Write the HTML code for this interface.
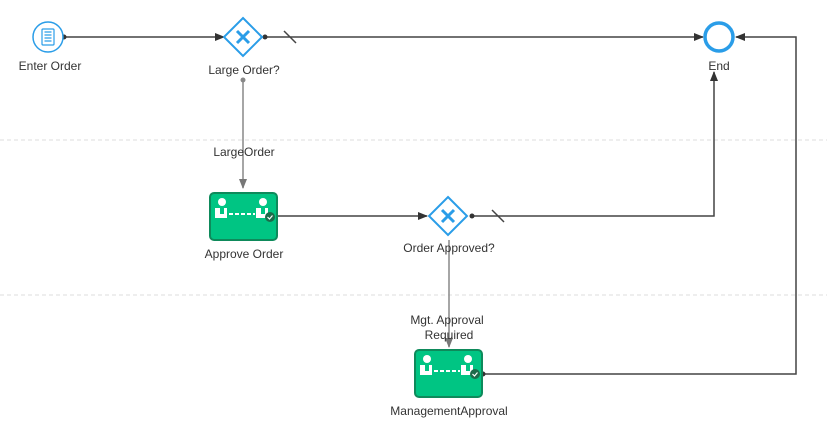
<!DOCTYPE html>
<html><head><style>body{margin:0;background:#fff}svg{display:block;font-family:"Liberation Sans",sans-serif}</style></head><body>
<svg width="827" height="444" viewBox="0 0 827 444">
<defs>
<marker id="a" markerWidth="10" markerHeight="10" refX="9" refY="5" orient="auto" markerUnits="userSpaceOnUse"><path d="M0,1 L10,5 L0,9z" fill="#333"/></marker>
<marker id="g" markerWidth="10" markerHeight="10" refX="9" refY="5" orient="auto" markerUnits="userSpaceOnUse"><path d="M0,1 L10,5 L0,9z" fill="#777"/></marker>
<g id="task">
<rect x="0" y="0" width="67" height="47" rx="4" fill="#00c583" stroke="#0e8a5b" stroke-width="2"/>
<circle cx="12" cy="9" r="4" fill="#fff"/><path d="M5,15h5v6h4v-6h3v10h-12z" fill="#fff"/>
<circle cx="53" cy="9" r="4" fill="#fff"/><path d="M46,15h5v6h4v-6h3v10h-12z" fill="#fff"/>
<path d="M19,21h26" stroke="#fff" stroke-width="2" stroke-dasharray="4,2"/>
<circle cx="60" cy="24" r="5" fill="#1d6b4a"/><path d="M57.5,24l2,2l3-3.5" stroke="#fff" stroke-width="1.2" fill="none"/>
</g>
<g id="gw">
<path d="M0,-19 L19,0 L0,19 L-19,0z" fill="#fff" stroke="#2a9de8" stroke-width="2"/>
<path d="M-6,-6L6,6M6,-6L-6,6" stroke="#2a9de8" stroke-width="3"/>
</g>
</defs>
<line x1="0" y1="140" x2="827" y2="140" stroke="#ddd" stroke-dasharray="4,3"/>
<line x1="0" y1="295" x2="827" y2="295" stroke="#ddd" stroke-dasharray="4,3"/>
<g stroke="#444" stroke-width="1.5" fill="none">
<path d="M64,37H224" marker-end="url(#a)"/>
<path d="M265,37H703" marker-end="url(#a)"/>
<path d="M284,31l12,12"/>
<path d="M277,216H427" marker-end="url(#a)"/>
<path d="M472,216H714V72" marker-end="url(#a)"/>
<path d="M492,210l12,12"/>
<path d="M483,374H796V37H736" marker-end="url(#a)"/>
</g>
<g stroke="#888" stroke-width="1.5" fill="none">
<path d="M243,80V188" marker-end="url(#g)"/>
<path d="M449,240V347" marker-end="url(#g)"/>
</g>
<circle cx="243" cy="80" r="2.5" fill="#888"/>
<circle cx="64" cy="37" r="2.5" fill="#333"/><circle cx="265" cy="37" r="2.5" fill="#333"/><circle cx="472" cy="216" r="2.5" fill="#333"/><circle cx="483" cy="374" r="2.5" fill="#333"/>
<circle cx="48" cy="37" r="15" fill="#fff" stroke="#2a9de8" stroke-width="1.5"/>
<rect x="42" y="29" width="12" height="16" rx="1" fill="#fff" stroke="#2a9de8" stroke-width="1.2"/>
<path d="M44.5,32h7M44.5,35h7M44.5,38h7M44.5,41h7" stroke="#2a9de8" stroke-width="1.2"/>
<circle cx="719" cy="37" r="14" fill="#fff" stroke="#2a9de8" stroke-width="3.5"/>
<use href="#gw" x="243" y="37"/>
<use href="#gw" x="448" y="216"/>
<use href="#task" x="210" y="193"/>
<use href="#task" x="415" y="350"/>
<g font-size="12" fill="#333" text-anchor="middle">
<text x="50" y="70">Enter Order</text>
<text x="244" y="74">Large Order?</text>
<text x="719" y="70">End</text>
<text x="244" y="156">LargeOrder</text>
<text x="244" y="258">Approve Order</text>
<text x="449" y="252">Order Approved?</text>
<text x="447" y="324">Mgt. Approval</text>
<text x="449" y="339">Required</text>
<text x="449" y="415">ManagementApproval</text>
</g>
</svg>
</body></html>
